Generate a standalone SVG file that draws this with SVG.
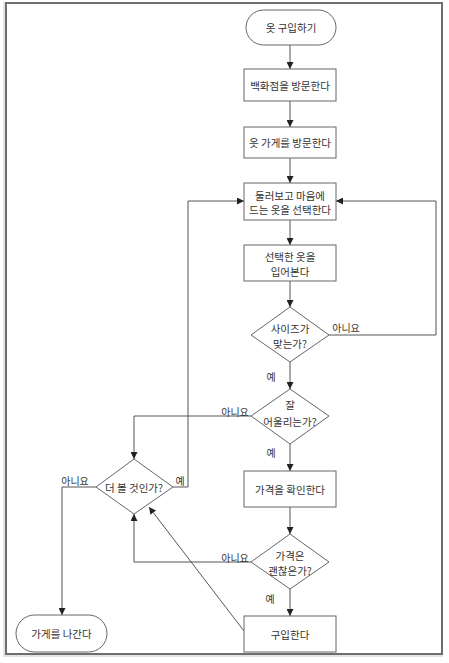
<svg xmlns="http://www.w3.org/2000/svg" width="449" height="663" viewBox="0 0 449 663">
<style>
.n{fill:#fff;stroke:#666;stroke-width:1}
.t{font-family:"Noto Sans CJK KR","Noto Sans",sans-serif;font-size:10.5px;fill:#333;text-anchor:middle;dominant-baseline:central}
.l{font-family:"Noto Sans CJK KR","Noto Sans",sans-serif;font-size:10px;fill:#333;text-anchor:middle;dominant-baseline:central}
.c{fill:none;stroke:#555;stroke-width:1}
</style>
<defs>
<marker id="a" viewBox="0 0 10 10" refX="10" refY="5" markerWidth="7" markerHeight="7" markerUnits="userSpaceOnUse" orient="auto">
<path d="M0,0 L10,5 L0,10 z" fill="#222"/>
</marker>
</defs>
<rect x="0" y="0" width="449" height="663" fill="#fff"/>
<rect x="6" y="3" width="436" height="651" fill="none" stroke="#e4e4e4" stroke-width="4" transform="translate(-1,1)"/>
<rect x="6" y="3" width="436" height="651" fill="#fff" stroke="#6e6e6e" stroke-width="2"/>
<g id="connectors">
<path class="c" d="M290,45 V69" marker-end="url(#a)"/>
<path class="c" d="M290,101 V127" marker-end="url(#a)"/>
<path class="c" d="M290,158 V183" marker-end="url(#a)"/>
<path class="c" d="M290,220 V245" marker-end="url(#a)"/>
<path class="c" d="M290,281 V307" marker-end="url(#a)"/>
<path class="c" d="M290,362 V389" marker-end="url(#a)"/>
<path class="c" d="M290,444 V471" marker-end="url(#a)"/>
<path class="c" d="M290,507 V534" marker-end="url(#a)"/>
<path class="c" d="M290,589 V616" marker-end="url(#a)"/>
<path class="c" d="M329,335 H436 V201 H336" marker-end="url(#a)"/>
<path class="c" d="M251,416 H134 V459" marker-end="url(#a)"/>
<path class="c" d="M251,562 H134 V514" marker-end="url(#a)"/>
<path class="c" d="M244,631 L149,507" marker-end="url(#a)"/>
<path class="c" d="M173,487 H188 V201 H244" marker-end="url(#a)"/>
<path class="c" d="M96,487 H62 V615" marker-end="url(#a)"/>
<text class="l" x="346" y="327">아니요</text>
<text class="l" x="271" y="376">예</text>
<text class="l" x="235" y="411">아니요</text>
<text class="l" x="271" y="452">예</text>
<text class="l" x="235" y="557">아니요</text>
<text class="l" x="270" y="598">예</text>
<text class="l" x="75" y="480">아니요</text>
<text class="l" x="180" y="480">예</text>
</g>
<g id="start"><rect class="n" x="246" y="10" width="90" height="35" rx="17.5"/><text class="t" x="291" y="27.5">옷 구입하기</text></g>
<g id="dept"><rect class="n" x="244" y="69" width="92" height="32"/><text class="t" x="290" y="85">백화점을 방문한다</text></g>
<g id="store"><rect class="n" x="244" y="127" width="92" height="31"/><text class="t" x="290" y="142.5">옷 가게를 방문한다</text></g>
<g id="browse"><rect class="n" x="244" y="183" width="92" height="37"/><text class="t" x="290" y="195">둘러보고 마음에</text><text class="t" x="290" y="209">드는 옷을 선택한다</text></g>
<g id="try"><rect class="n" x="244" y="245" width="92" height="36"/><text class="t" x="290" y="256">선택한 옷을</text><text class="t" x="290" y="271">입어본다</text></g>
<g id="size"><polygon class="n" points="290,307 329,335 290,362 251,335"/><text class="t" x="290" y="328">사이즈가</text><text class="t" x="290" y="343">맞는가?</text></g>
<g id="fit"><polygon class="n" points="290,389 329,416 290,444 251,416"/><text class="t" x="290" y="404">잘</text><text class="t" x="290" y="421">어울리는가?</text></g>
<g id="price"><rect class="n" x="244" y="471" width="92" height="36"/><text class="t" x="290" y="489">가격을 확인한다</text></g>
<g id="priceok"><polygon class="n" points="290,534 329,562 290,589 251,562"/><text class="t" x="290" y="555">가격은</text><text class="t" x="290" y="570">괜찮은가?</text></g>
<g id="buy"><rect class="n" x="244" y="616" width="92" height="36"/><text class="t" x="290" y="634">구입한다</text></g>
<g id="more"><polygon class="n" points="134,459 173,487 134,514 96,487"/><text class="t" x="134" y="487">더 볼 것인가?</text></g>
<g id="leave"><rect class="n" x="16" y="615" width="91" height="37" rx="18.5"/><text class="t" x="61.5" y="633.5">가게를 나간다</text></g>
</svg>
